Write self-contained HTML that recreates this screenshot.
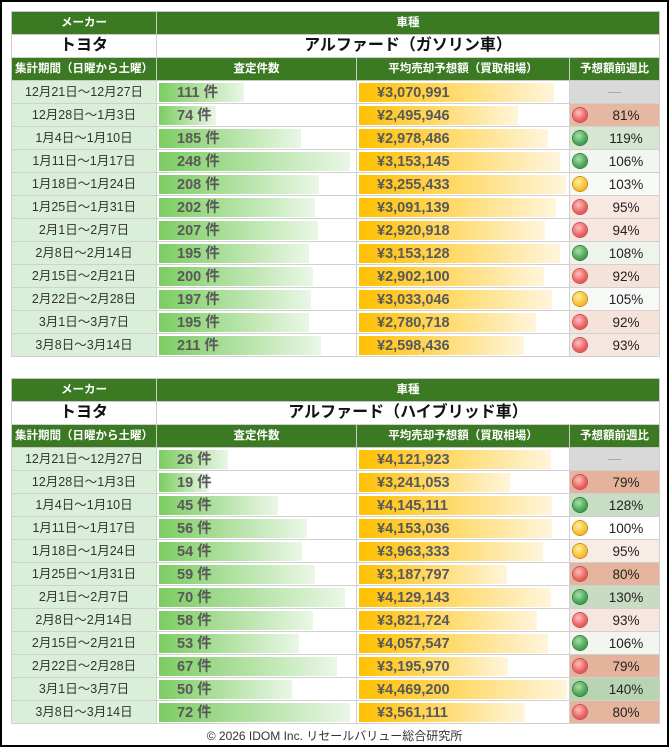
<!DOCTYPE html>
<html><head><meta charset="utf-8"><style>
*{margin:0;padding:0;box-sizing:border-box}
html,body{width:669px;height:747px;background:#fff;overflow:hidden}
body{border:2px solid #000;position:relative;font-family:"Liberation Sans","Noto Sans CJK JP",sans-serif}
table{position:absolute;left:9px;border-collapse:collapse;table-layout:fixed;width:648px}
tr{height:23px}
td{border:1px solid #d0d0d0;height:22px;padding:0;text-align:center;font-size:12px;position:relative;white-space:nowrap;overflow:hidden;line-height:20px}
.h td{background:#3b7a22;color:#fff;font-weight:bold;font-size:11.5px;border-color:#c8c8c8}
.t td{font-weight:bold;font-size:16px;color:#111}
.d{background:#d9efd9;color:#333;font-size:12.5px}
.c,.p{text-align:left}
.c i,.p i{position:absolute;left:2px;top:2px;height:19px}
.c i{background:linear-gradient(90deg,#7ccd62,#eaf7e6)}
.p i{background:linear-gradient(90deg,#ffc000,#fff5dc)}
.c b,.p b{position:absolute;left:0;top:1px;line-height:22px;font-size:14.5px;color:#595959;font-weight:bold;padding-left:20px}
.r{text-align:left;font-size:13.5px;color:#222}
.r s{position:absolute;left:3px;top:4px;width:14px;height:14px;border-radius:50%;text-decoration:none}
.r span{position:absolute;left:36px;top:1px;line-height:22px;width:40px;text-align:center}
.R{background:radial-gradient(circle at 40% 35%,#ffc0c0,#ee6060 60%,#c04040);box-shadow:0 0 0 1px #b55}
.G{background:radial-gradient(circle at 40% 35%,#a8e0a8,#48a858 60%,#2a7a3a);box-shadow:0 0 0 1px #3a7a3a}
.Y{background:radial-gradient(circle at 40% 35%,#fff0a0,#f8c030 60%,#e09010);box-shadow:0 0 0 1px #c8901a}
.dash{background:#d9d9d9!important;color:#aaa;text-align:center}
.foot{position:absolute;top:725px;left:0;width:665px;text-align:center;font-size:12px;color:#333}
</style></head><body>
<table style="top:9px">
<colgroup><col style="width:145px"><col style="width:200px"><col style="width:213px"><col style="width:90px"></colgroup>
<tr class="h"><td>メーカー</td><td colspan="3">車種</td></tr>
<tr class="t"><td>トヨタ</td><td colspan="3">アルファード（ガソリン車）</td></tr>
<tr class="h"><td>集計期間（日曜から土曜）</td><td>査定件数</td><td>平均売却予想額（買取相場）</td><td>予想額前週比</td></tr>
<tr><td class="d">12月21日～12月27日</td><td class="c"><i style="width:85px"></i><b>111 件</b></td><td class="p"><i style="width:195px"></i><b>¥3,070,991</b></td><td class="r dash">—</td></tr>
<tr><td class="d">12月28日～1月3日</td><td class="c"><i style="width:57px"></i><b>74 件</b></td><td class="p"><i style="width:159px"></i><b>¥2,495,946</b></td><td class="r" style="background:#e6b8a2"><s class="R"></s><span>81%</span></td></tr>
<tr><td class="d">1月4日～1月10日</td><td class="c"><i style="width:142px"></i><b>185 件</b></td><td class="p"><i style="width:189px"></i><b>¥2,978,486</b></td><td class="r" style="background:#d6e6d2"><s class="G"></s><span>119%</span></td></tr>
<tr><td class="d">1月11日～1月17日</td><td class="c"><i style="width:191px"></i><b>248 件</b></td><td class="p"><i style="width:201px"></i><b>¥3,153,145</b></td><td class="r" style="background:#f1f6ef"><s class="G"></s><span>106%</span></td></tr>
<tr><td class="d">1月18日～1月24日</td><td class="c"><i style="width:160px"></i><b>208 件</b></td><td class="p"><i style="width:207px"></i><b>¥3,255,433</b></td><td class="r" style="background:#f8faf6"><s class="Y"></s><span>103%</span></td></tr>
<tr><td class="d">1月25日～1月31日</td><td class="c"><i style="width:156px"></i><b>202 件</b></td><td class="p"><i style="width:197px"></i><b>¥3,091,139</b></td><td class="r" style="background:#f7e8e2"><s class="R"></s><span>95%</span></td></tr>
<tr><td class="d">2月1日～2月7日</td><td class="c"><i style="width:159px"></i><b>207 件</b></td><td class="p"><i style="width:186px"></i><b>¥2,920,918</b></td><td class="r" style="background:#f7e7e0"><s class="R"></s><span>94%</span></td></tr>
<tr><td class="d">2月8日～2月14日</td><td class="c"><i style="width:150px"></i><b>195 件</b></td><td class="p"><i style="width:201px"></i><b>¥3,153,128</b></td><td class="r" style="background:#eef4ec"><s class="G"></s><span>108%</span></td></tr>
<tr><td class="d">2月15日～2月21日</td><td class="c"><i style="width:154px"></i><b>200 件</b></td><td class="p"><i style="width:185px"></i><b>¥2,902,100</b></td><td class="r" style="background:#f5e2d8"><s class="R"></s><span>92%</span></td></tr>
<tr><td class="d">2月22日～2月28日</td><td class="c"><i style="width:152px"></i><b>197 件</b></td><td class="p"><i style="width:193px"></i><b>¥3,033,046</b></td><td class="r" style="background:#f7f9f6"><s class="Y"></s><span>105%</span></td></tr>
<tr><td class="d">3月1日～3月7日</td><td class="c"><i style="width:150px"></i><b>195 件</b></td><td class="p"><i style="width:177px"></i><b>¥2,780,718</b></td><td class="r" style="background:#f5e2d8"><s class="R"></s><span>92%</span></td></tr>
<tr><td class="d">3月8日～3月14日</td><td class="c"><i style="width:162px"></i><b>211 件</b></td><td class="p"><i style="width:165px"></i><b>¥2,598,436</b></td><td class="r" style="background:#f5e6df"><s class="R"></s><span>93%</span></td></tr>
</table>

<table style="top:376px">
<colgroup><col style="width:145px"><col style="width:200px"><col style="width:213px"><col style="width:90px"></colgroup>
<tr class="h"><td>メーカー</td><td colspan="3">車種</td></tr>
<tr class="t"><td>トヨタ</td><td colspan="3">アルファード（ハイブリッド車）</td></tr>
<tr class="h"><td>集計期間（日曜から土曜）</td><td>査定件数</td><td>平均売却予想額（買取相場）</td><td>予想額前週比</td></tr>
<tr><td class="d">12月21日～12月27日</td><td class="c"><i style="width:69px"></i><b>26 件</b></td><td class="p"><i style="width:192px"></i><b>¥4,121,923</b></td><td class="r dash">—</td></tr>
<tr><td class="d">12月28日～1月3日</td><td class="c"><i style="width:50px"></i><b>19 件</b></td><td class="p"><i style="width:151px"></i><b>¥3,241,053</b></td><td class="r" style="background:#e5b39b"><s class="R"></s><span>79%</span></td></tr>
<tr><td class="d">1月4日～1月10日</td><td class="c"><i style="width:119px"></i><b>45 件</b></td><td class="p"><i style="width:193px"></i><b>¥4,145,111</b></td><td class="r" style="background:#c8dec4"><s class="G"></s><span>128%</span></td></tr>
<tr><td class="d">1月11日～1月17日</td><td class="c"><i style="width:148px"></i><b>56 件</b></td><td class="p"><i style="width:193px"></i><b>¥4,153,036</b></td><td class="r" style="background:#fff"><s class="Y"></s><span>100%</span></td></tr>
<tr><td class="d">1月18日～1月24日</td><td class="c"><i style="width:143px"></i><b>54 件</b></td><td class="p"><i style="width:184px"></i><b>¥3,963,333</b></td><td class="r" style="background:#f8ece6"><s class="Y"></s><span>95%</span></td></tr>
<tr><td class="d">1月25日～1月31日</td><td class="c"><i style="width:156px"></i><b>59 件</b></td><td class="p"><i style="width:148px"></i><b>¥3,187,797</b></td><td class="r" style="background:#e4b49c"><s class="R"></s><span>80%</span></td></tr>
<tr><td class="d">2月1日～2月7日</td><td class="c"><i style="width:186px"></i><b>70 件</b></td><td class="p"><i style="width:192px"></i><b>¥4,129,143</b></td><td class="r" style="background:#c7dcc2"><s class="G"></s><span>130%</span></td></tr>
<tr><td class="d">2月8日～2月14日</td><td class="c"><i style="width:154px"></i><b>58 件</b></td><td class="p"><i style="width:178px"></i><b>¥3,821,724</b></td><td class="r" style="background:#f7e6df"><s class="R"></s><span>93%</span></td></tr>
<tr><td class="d">2月15日～2月21日</td><td class="c"><i style="width:140px"></i><b>53 件</b></td><td class="p"><i style="width:189px"></i><b>¥4,057,547</b></td><td class="r" style="background:#f1f6ef"><s class="G"></s><span>106%</span></td></tr>
<tr><td class="d">2月22日～2月28日</td><td class="c"><i style="width:178px"></i><b>67 件</b></td><td class="p"><i style="width:149px"></i><b>¥3,195,970</b></td><td class="r" style="background:#e5b39b"><s class="R"></s><span>79%</span></td></tr>
<tr><td class="d">3月1日～3月7日</td><td class="c"><i style="width:133px"></i><b>50 件</b></td><td class="p"><i style="width:208px"></i><b>¥4,469,200</b></td><td class="r" style="background:#b9d4b3"><s class="G"></s><span>140%</span></td></tr>
<tr><td class="d">3月8日～3月14日</td><td class="c"><i style="width:191px"></i><b>72 件</b></td><td class="p"><i style="width:166px"></i><b>¥3,561,111</b></td><td class="r" style="background:#e4b49c"><s class="R"></s><span>80%</span></td></tr>
</table>
<div class="foot">© 2026 IDOM Inc.  リセールバリュー総合研究所</div>
</body></html>
